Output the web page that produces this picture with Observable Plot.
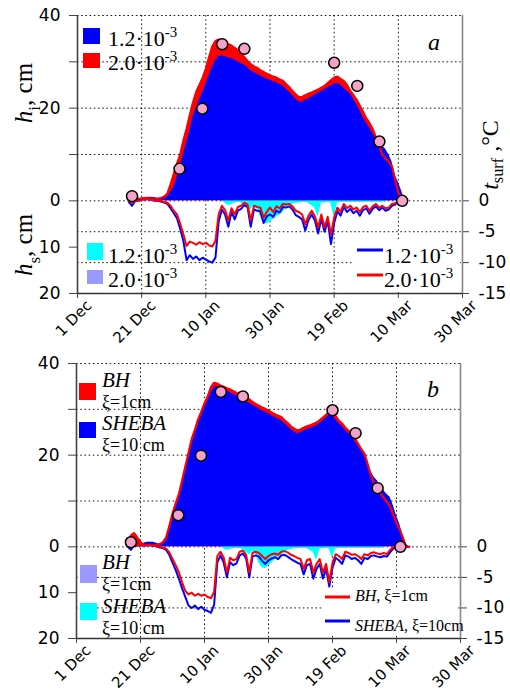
<!DOCTYPE html>
<html><head><meta charset="utf-8">
<script src="https://cdn.jsdelivr.net/npm/d3@7"></script>
<script src="https://cdn.jsdelivr.net/npm/@observablehq/plot@0.6"></script>
<style>
body{margin:0;background:#fff}
#chart{position:relative;width:510px;height:691px;background:#fff}
#chart svg{position:absolute;left:0}
</style>
</head><body><div id="chart"></div>
<script>
// ---------- data ----------
const dayStart = 14;          // day index (days since 1 Dec) of the first value
const snowStart = 44;
const dateTickDays = [0, 20, 40, 60, 80, 100, 120];
const dateLabels = ["1 Dec", "21 Dec", "10 Jan", "30 Jan", "19 Feb", "10 Mar", "30 Mar"];
const iceTicks = [40, 30, 20, 10, 0];
const iceTickLabels = ["40", "", "20", "", "0"];
const snowTicks = [10, 20];
const snowTickLabels = ["10", "20"];
const tempTicks = [0, -5, -10, -15];
const tempTickLabels = ["0", "-5", "-10", "-15"];

// observations (pink dots)
const obsDays = [17, 31.8, 38.9, 45.1, 52, 80, 87.2, 94.1, 101.2];
const obsHi   = [1, 6.9, 19.9, 33.8, 32.8, 29.8, 24.8, 12.8, 0];

// panel a, ice thickness (cm)
const iceA_20 = [null,null,0,0.3,0.5,0.5,0.5,0.6,0.6,0.5,
 0.5,0.5,0.6,0.9,1.5,3.5,5.8,8,10,13,
 15.5,18.5,21.2,23.5,25,26.5,28.5,31,33.3,34.5,
 34.8,34.6,34.2,33.8,33.5,33,32.5,31.8,31,30.2,
 29.5,29,28.7,28.2,27.8,27.4,27.1,26.8,26.6,26.2,
 25.9,25.2,24.5,23.7,23,22.4,22.4,22.8,23.1,23.4,
 23.7,24,24.4,24.8,25.4,26,26.6,26.8,26.3,25.9,
 25,23.8,22.8,21.8,20.5,19.2,17.8,16.8,15.5,13.7,
 12,10,9.2,8.4,7.5,4.5,1.8,0.3,0,null,null];
const iceA_12 = [null,null,0,0.2,0.3,0.4,0.5,0.7,0.8,0.8,
 0.7,0.5,0.5,0.6,0.8,1.8,2.9,5,7.2,10,
 12.5,15,18.2,20,21.8,23.3,25.2,27,28.8,30.3,
 31.1,31.3,31.1,30.9,30.7,30.4,30,29.6,29.3,28.8,
 28.1,27.7,27.3,27,26.6,26.3,26,25.7,25.5,25.1,
 24.8,24.1,23.5,22.7,22,21.4,21.3,21.7,22,22.4,
 22.8,23.2,23.6,24,24.4,24.8,25.2,25.3,25,24.3,
 23.7,23.1,22,20.8,19.5,18,16.8,15.8,14.6,13.5,
 12.6,11.9,11.2,10,8.5,5.5,4,2.2,0,null,null];
// panel b, ice thickness (cm)
const iceB_BH = [null,null,0.5,2.5,3,2,1,0.5,0.4,0.4,
 0.4,0.4,0.6,1,2,4.5,7.2,9.5,11.5,14.5,
 17.5,20.5,23.5,25.5,27.8,29.5,31.3,32.8,34.8,35.8,
 35.6,35.2,34.9,34.6,34.3,34,33.6,33.2,32.8,32.4,
 32.2,31.6,31.2,30.8,30.4,30.1,29.7,29.3,28.9,28.6,
 28.3,27.6,27,26.3,25.8,25.4,25.6,26,26.3,26.5,
 26.8,27.1,27.6,28.2,28.8,29.4,29.3,28.5,27.5,26.9,
 26,25.3,24.7,23.7,22.5,21.3,20.3,18,15.5,14,
 12.6,11.6,10.7,9.8,8.8,7,5.2,3.8,2,0,0];
const iceB_SH = [null,null,0.2,0.5,0.8,0.6,0.5,0.8,1,1,
 1,0.8,0.5,0.7,1.3,3.5,6,8.5,10.5,13.5,
 16.5,19.5,22.5,24.5,26.8,28.5,30.3,31.8,33.5,34.8,
 35,34.6,34.3,34,33.6,33.3,32.9,32.5,32.1,31.7,
 31.4,30.9,30.5,30.1,29.7,29.4,29,28.6,28.2,27.9,
 27.6,26.9,26.3,25.6,25.1,24.7,24.9,25.3,25.6,25.8,
 26.1,26.4,26.9,27.5,28.1,28.7,28.6,27.8,26.9,26.3,
 25.4,24.8,24.1,23.1,22,21,20,18.5,16.5,15.2,
 14.4,13.3,12.3,11.5,10.8,9,6.8,5,2.5,0.5,0];

// surface temperature (°C)
const tA_20 = [null,null,0,-0.3,0,0,0.2,0.3,0.3,0.2,
 0.1,0,0,-0.2,-0.3,-0.8,-1.6,-2.2,-3.7,-5.4,
 -7.3,-6.6,-6.8,-7.1,-6.7,-7,-6.8,-7.2,-7.4,-6.5,
 -2.2,-0.8,-1.5,-3.2,-1.2,-2.2,-1,-0.8,-0.3,-0.6,
 -3.2,-0.8,-1,-1.1,-2.7,-1.8,-1.1,-1.8,-0.9,-1.2,
 -0.5,-0.6,-0.5,-0.9,-1.6,-1.8,-2.2,-3.8,-2.4,-1.6,
 -2.5,-4.3,-2.2,-4.3,-2.6,-5.4,-2.7,-1.1,-1.8,-0.5,
 -1.2,-0.8,-1.4,-1.1,-1.8,-1,-0.8,-1.6,-0.9,-0.5,
 -1.1,-0.8,-1.2,-1.1,-0.5,-0.4,0,0,null,null,null];
const tA_12 = [null,null,-0.2,-0.8,0,0,0.2,0.3,0.3,0.2,
 0,0,-0.1,-0.3,-0.5,-1.2,-2,-2.8,-4.5,-6.5,
 -9.6,-8.8,-9.4,-9,-9.6,-9.2,-9.5,-9.8,-10,-9.2,
 -3.4,-1.4,-2.2,-4.2,-1.8,-3,-1.6,-1.3,-0.7,-1,
 -4.2,-1.4,-1.6,-1.7,-3.6,-2.5,-2.2,-2.6,-1.6,-1.9,
 -1,-1.1,-0.9,-1.4,-2.3,-2.6,-3,-4.8,-3.1,-2.2,
 -3.2,-5.3,-2.9,-5,-3.3,-7,-3.6,-1.7,-2.4,-1,
 -1.8,-1.3,-2,-1.6,-2.4,-1.5,-1.2,-2.1,-1.3,-0.9,
 -1.5,-1.1,-1.6,-1.4,-0.8,-0.6,0,0,null,null,null];
const tB_BH = [null,null,0,0.2,0.5,0.3,0.3,0.2,0.3,0.3,
 0.2,0.1,0,-0.1,-0.3,-0.9,-2,-3,-4.2,-5.8,
 -7.2,-7.8,-7.5,-8,-7.7,-8,-7.8,-8.2,-8.4,-7.4,
 -1.5,-0.8,-1.8,-4.2,-1.8,-2.2,-2,-0.8,-0.6,-1.3,
 -4.2,-1,-0.8,-1,-1.5,-2,-1.5,-1.2,-1.1,-1.3,
 -0.8,-0.7,-0.9,-1.3,-1.5,-1.8,-2,-3.6,-2.2,-2,
 -4.2,-2.8,-2,-4.2,-2.8,-5.8,-2.6,-1.2,-1.5,-2,
 -0.8,-1,-1.3,-1.2,-1.5,-2,-1.2,-1.4,-1,-0.9,
 -1.1,-1.2,-1,-1.2,-0.5,0,0,0,0,0,0];
const tB_SH = [null,null,0,-0.5,0.3,0.2,0.3,0.2,0.3,0.3,
 0.2,0.1,-0.1,-0.2,-0.5,-1.3,-2.6,-3.8,-5.2,-6.8,
 -8.2,-9.6,-10,-9.6,-10.2,-9.8,-10.3,-10.5,-10.8,-9.5,
 -2.6,-1.4,-2.6,-5,-2.5,-3,-2.7,-1.4,-1.1,-1.9,
 -5,-1.6,-1.4,-1.6,-2.3,-2.8,-2.2,-1.9,-1.7,-2,
 -1.4,-1.3,-1.6,-2,-2.3,-2.6,-2.8,-4.5,-3,-2.8,
 -5.2,-3.6,-2.8,-5.2,-3.6,-6.5,-3.4,-1.8,-2.2,-2.8,
 -1.4,-1.6,-2,-1.8,-2.2,-2.8,-1.8,-2,-1.5,-1.4,
 -1.6,-1.7,-1.5,-1.6,-0.9,-0.3,0,null,null,null,null];

// snow thickness (cm), from day 44
const snowA_12 = [0,0,0.5,1,0.8,0.5,0.3,0.5,0.8,1.5,
 2,1,1.5,3.5,4.5,5,4.5,4,3.5,3,
 2.5,1.5,1,0.8,0.5,0.5,0.3,0.3,0.5,1,
 1.5,3.5,0.5,0.5,0.3,0.5,3.5,0.5,0.3,0.3,
 0.3,0.3,0.3,0.3,0.3,0.3,0.3,0.3,0.3,0.3,
 0.3,0.3,0.2,0,0,0,0,0,0,0];
const snowA_20 = [0,0,0.3,0.6,0.5,0.3,0.2,0.3,0.5,1,
 1.3,0.7,1,2.3,3,3.3,3,2.6,2.3,2,
 1.6,1,0.7,0.5,0.3,0.3,0.2,0.2,0.3,0.7,
 1,2.3,0.3,0.3,0.2,0.3,2.3,0.3,0.2,0.2,
 0.2,0.2,0.2,0.2,0.2,0.2,0.2,0.2,0.2,0.2,
 0.2,0.2,0.1,0,0,0,0,0,0,0];
const snowB_SH = [0,0,0.4,0.8,0.6,0.4,0.3,0.4,0.6,1.2,
 1.8,1,1.5,3.5,4.5,4.8,4.2,3.5,2.8,2.2,
 2,1.2,0.8,0.6,0.4,0.4,0.3,0.3,0.4,0.8,
 1.2,3,0.5,0.4,0.3,0.5,2.5,0.4,0.3,0.3,
 0.3,0.3,0.3,0.3,0.3,0.3,0.3,0.3,0.3,0.3,
 0.3,0.3,0.2,0,0,0,0,0,0,0];
const snowB_BH = [0,0,0.3,0.5,0.4,0.3,0.2,0.3,0.4,0.8,
 1.2,0.6,1,2.3,3,3.2,2.8,2.3,1.9,1.5,
 1.3,0.8,0.5,0.4,0.3,0.3,0.2,0.2,0.3,0.5,
 0.8,2,0.3,0.3,0.2,0.3,1.7,0.3,0.2,0.2,
 0.2,0.2,0.2,0.2,0.2,0.2,0.2,0.2,0.2,0.2,
 0.2,0.2,0.1,0,0,0,0,0,0,0];

// colours
const RED = "#ff0000", BLUE = "#0000ff", CYAN = "#00ffff", LAV = "#9999ff", PINK = "#f4a3c8";

// ---------- helpers ----------
const hsMax = 20, tMin = -15;
const k = hsMax / -tMin;   // temperature -> shared y units
const series = (arr, start = dayStart) => arr.map((v, i) => ({d: start + i, v})).filter(r => r.v !== null);
const obs = obsDays.map((d, i) => ({d, h: obsHi[i]}));
const leftVals = iceTicks.concat(snowTicks.map(s => -s));
const leftLabs = iceTickLabels.concat(snowTickLabels);
const rightVals = tempTicks.map(t => t * k);
const dots = {stroke: "#000", strokeOpacity: 0.9, strokeDasharray: "1.6,2.6", strokeWidth: 1};

function panel(cfg) {
  return Plot.plot({
    width: 510, height: cfg.height,
    marginTop: cfg.mt, marginBottom: cfg.mb, marginLeft: cfg.ml, marginRight: cfg.mr,
    x: {domain: [0, 120]},
    y: {domain: [-hsMax, 40]},
    style: {fontFamily: "DejaVu Sans", fontSize: "17px", background: "transparent", color: "#000", overflow: "visible"},
    marks: [
      Plot.gridX({ticks: dateTickDays.slice(1, -1), ...dots}),
      Plot.gridY({ticks: iceTicks, ...dots}),
      Plot.gridY({ticks: rightVals.slice(1), ...dots}),
      Plot.areaY(series(cfg.snowUnder, snowStart), {x: "d", y: r => -r.v, fill: cfg.snowUnderColor}),
      Plot.areaY(series(cfg.snowOver, snowStart), {x: "d", y: r => -r.v, fill: cfg.snowOverColor}),
      Plot.areaY(series(cfg.iceRed), {x: "d", y: "v", fill: RED}),
      Plot.areaY(series(cfg.iceBlue), {x: "d", y: "v", fill: BLUE}),
      Plot.lineY(series(cfg.iceRed), {x: "d", y: "v", stroke: RED, strokeWidth: 2.2}),
      Plot.lineY(series(cfg.tBlue), {x: "d", y: r => r.v * k, stroke: BLUE, strokeWidth: 2}),
      Plot.lineY(series(cfg.tRed), {x: "d", y: r => r.v * k, stroke: RED, strokeWidth: 2}),
      Plot.dot(obs, {x: "d", y: "h", r: 5.5, fill: PINK, stroke: "#000", strokeWidth: 1.5}),
      Plot.ruleX([0], {stroke: "#444", strokeWidth: 1.6}),
      Plot.ruleX([120], {stroke: "#888", strokeWidth: 1.6}),
      Plot.ruleY([-hsMax], {stroke: "#333", strokeWidth: 1.6}),
      Plot.axisY({anchor: "left", ticks: leftVals, tickFormat: d => leftLabs[leftVals.indexOf(d)], tickSize: 8, tickPadding: 9, fontSize: 17, label: null, stroke: "#444"}),
      Plot.axisY({anchor: "right", ticks: rightVals, tickFormat: d => tempTickLabels[rightVals.indexOf(d)], tickSize: 6, tickPadding: 10, fontSize: 17, label: null, stroke: "#444"}),
      Plot.axisX({ticks: dateTickDays, tickFormat: () => "", tickSize: 5, label: null, stroke: "#444"}),
      Plot.text(dateTickDays.map((d, i) => ({d, label: dateLabels[i]})),
        {x: "d", frameAnchor: "bottom", text: "label", rotate: -45, textAnchor: "end", dx: 15, dy: 13, fontSize: 15})
    ]
  });
}

function rich(sel, x, y, parts, opt = {}) {
  const size = opt.size || 22;
  const g = sel.append("g").attr("transform", `translate(${x},${y}) rotate(${opt.rotate || 0})`);
  const t = g.append("text").attr("font-family", "Liberation Serif").attr("font-size", size)
    .attr("text-anchor", opt.anchor || "start").attr("fill", "#000");
  let shift = 0;
  for (const p of parts) {
    const s = t.append("tspan").text(p.t);
    if (p.italic) s.attr("font-style", "italic");
    const target = p.sup ? -0.42 * size : p.sub ? (opt.subShift || 0.3) * size : 0;
    s.attr("dy", target - shift); shift = target;
    if (p.sup || p.sub) s.attr("font-size", size * 0.68);
  }
}
const rect = (sel, x, y, w, h, c) => sel.append("rect").attr("x", x).attr("y", y).attr("width", w).attr("height", h).attr("fill", c);
const seg = (sel, x1, x2, y, c) => sel.append("line").attr("x1", x1).attr("x2", x2).attr("y1", y).attr("y2", y).attr("stroke", c).attr("stroke-width", 3);
const e3 = v => [{t: v + "·10"}, {t: "-3", sup: true}];

// ---------- panel a ----------
const chart = document.getElementById("chart");
const svgA = panel({height: 345, mt: 15, mb: 52, ml: 77, mr: 48,
  iceRed: iceA_20, iceBlue: iceA_12, snowUnder: snowA_20, snowOver: snowA_12,
  snowUnderColor: LAV, snowOverColor: CYAN, tRed: tA_20, tBlue: tA_12});
svgA.style.top = "0px";
chart.appendChild(svgA);
const a = d3.select(svgA);
rect(a, 83, 28, 17, 16, BLUE); rich(a, 108, 46, e3("1.2"));
rect(a, 83, 53, 17, 15, RED);  rich(a, 108, 70, e3("2.0"));
rect(a, 87, 243, 16, 17, CYAN); rich(a, 108, 263, e3("1.2"));
rect(a, 87, 270, 16, 14, LAV);  rich(a, 108, 287, e3("2.0"));
rect(a, 353, 241, 107, 50, "#fff");
seg(a, 357, 383, 250, BLUE); rich(a, 384, 263, e3("1.2"));
seg(a, 357, 383, 275, RED);  rich(a, 384, 287, e3("2.0"));
rich(a, 428, 50, [{t: "a", italic: true}], {size: 24});
rich(a, 32, 93, [{t: "h", italic: true}, {t: "i", sub: true}, {t: ", cm"}], {rotate: -90, anchor: "middle", size: 25});
rich(a, 32, 245, [{t: "h", italic: true}, {t: "s", sub: true}, {t: ", cm"}], {rotate: -90, anchor: "middle", size: 25});
rich(a, 498, 155, [{t: "t", italic: true}, {t: "surf", sub: true}, {t: " ,°C"}], {rotate: -90, anchor: "middle", size: 24, subShift: 0.2});

// ---------- panel b ----------
const svgB = panel({height: 346, mt: 18, mb: 53, ml: 76, mr: 50,
  iceRed: iceB_BH, iceBlue: iceB_SH, snowUnder: snowB_BH, snowOver: snowB_SH,
  snowUnderColor: LAV, snowOverColor: CYAN, tRed: tB_BH, tBlue: tB_SH});
svgB.style.top = "345px";
chart.appendChild(svgB);
const b = d3.select(svgB);
rect(b, 79, 38, 17, 17, RED);  rich(b, 102, 42, [{t: "BH", italic: true}], {size: 21});
rich(b, 102, 63, [{t: "ξ=1cm"}], {size: 18});
rect(b, 79, 77, 17, 16, BLUE); rich(b, 102, 85, [{t: "SHEBA", italic: true}], {size: 21});
rich(b, 102, 106, [{t: "ξ=10 cm"}], {size: 18});
rect(b, 80, 220, 17, 18, LAV);  rich(b, 102, 224, [{t: "BH", italic: true}], {size: 21});
rich(b, 102, 245, [{t: "ξ=1cm"}], {size: 18});
rect(b, 80, 258, 17, 17, CYAN); rich(b, 102, 268, [{t: "SHEBA", italic: true}], {size: 21});
rich(b, 102, 289, [{t: "ξ=10 cm"}], {size: 18});
rect(b, 322, 243, 136, 47, "#fff");
seg(b, 325, 350, 252, RED);  rich(b, 355, 256, [{t: "BH", italic: true}, {t: ", ξ=1cm"}], {size: 16});
seg(b, 325, 350, 276, BLUE); rich(b, 355, 286, [{t: "SHEBA", italic: true}, {t: ", ξ=10cm"}], {size: 16});
rich(b, 427, 52, [{t: "b", italic: true}], {size: 24});
</script>
</body></html>
